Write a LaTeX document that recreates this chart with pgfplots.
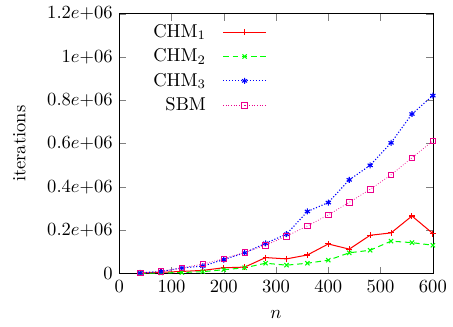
\documentclass[border=0pt]{standalone}
\usepackage{pgfplots}
\pgfplotsset{compat=1.18}
\begin{document}
\begin{tikzpicture}
\path (-64.2pt,-28.4pt) rectangle (174.2pt,147.4pt);
\begin{axis}[
  at={(0pt,0pt)}, anchor=south west,
  scale only axis, width=169pt, height=140pt,
  xmin=0, xmax=600, ymin=0, ymax=1.2e6,
  xtick={0,100,...,600},
  ytick={0,200000,400000,600000,800000,1000000,1200000},
  yticklabels={$0$,$0.2e{+}06$,$0.4e{+}06$,$0.6e{+}06$,$0.8e{+}06$,$1e{+}06$,$1.2e{+}06$},
  scaled y ticks=false,
  major tick length=3.7pt,
  tick align=inside,
  xlabel={$n$}, ylabel={iterations},
  every axis x label/.style={at={(axis description cs:0.5,-0.158)}, anchor=center},
  every axis y label/.style={at={(axis description cs:-0.318,0.5)}, rotate=90, anchor=center},
  legend plot pos=right,
  legend cell align=right,
  legend style={draw=none, fill=none, at={(axis description cs:0.078,0.99)}, anchor=north west,
    row sep=0.6pt, font=\normalsize},
  legend image code/.code={\path (0pt,0pt) (30pt,0pt);\draw[mark repeat=2,mark phase=2] plot coordinates {(7pt,0pt)(18.5pt,0pt)(30pt,0pt)};},
]
\addplot[color=red, mark=+, mark size=1.6pt, line width=0.55pt] coordinates {
(40,2000)(80,6000)(120,10000)(160,15000)(200,27000)(240,30000)(280,74000)(320,68000)(360,86000)(400,137000)(440,113000)(480,177000)(520,188000)(560,266000)(600,185000)};
\addlegendentry{CHM$_1$}
\addplot[color=green, mark=x, mark size=1.6pt, densely dashed, line width=0.55pt, mark options={solid}] coordinates {
(40,1000)(80,3000)(120,5000)(160,9000)(200,18000)(240,27000)(280,48000)(320,39000)(360,48000)(400,62000)(440,96000)(480,108000)(520,150000)(560,143000)(600,131000)};
\addlegendentry{CHM$_2$}
\addplot[color=blue, mark=asterisk, mark size=1.6pt, densely dotted, line width=0.6pt, mark options={solid}] coordinates {
(40,3000)(80,10000)(120,26000)(160,35000)(200,65000)(240,96000)(280,140000)(320,182000)(360,287000)(400,328000)(440,433000)(480,500000)(520,604000)(560,737000)(600,822000)};
\addlegendentry{CHM$_3$}
\addplot[color=magenta, mark=square, mark size=1.5pt, densely dotted, mark options={solid}] coordinates {
(40,3000)(80,10000)(120,26000)(160,44000)(200,69000)(240,98000)(280,131000)(320,173000)(360,220000)(400,271000)(440,329000)(480,389000)(520,456000)(560,535000)(600,613000)};
\addlegendentry{SBM}
\end{axis}
\end{tikzpicture}
\end{document}
